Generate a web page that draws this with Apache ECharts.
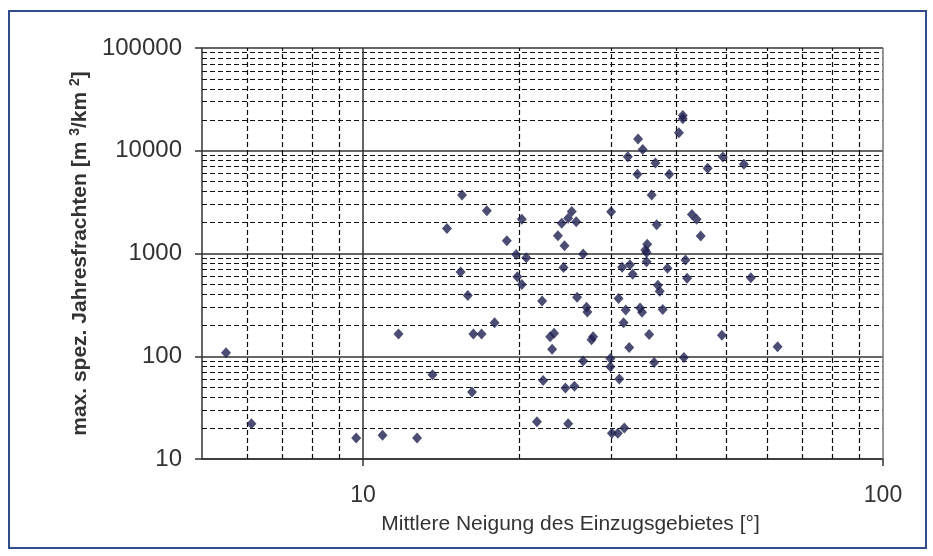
<!DOCTYPE html>
<html>
<head>
<meta charset="utf-8">
<script src="https://cdn.jsdelivr.net/npm/echarts@6/dist/echarts.min.js"></script>
<style>
html,body{margin:0;padding:0;background:#fff;}
#chart{width:933px;height:556px;}
</style>
</head>
<body>
<div id="chart"></div>
<script>
// Mean slope of catchment [deg]
const slopes = [5.45,6.1,9.7,10.9,12.7,11.7,13.6,14.5,15.4,15.5,17.3,18.9,20.2,19.7,20.6,19.8,20.2,15.9,22.1,17.9,
  23.7,24.1,24.8,25.2,25.7,24.4,26.5,24.3,25.8,26.9,27.0,16.3,16.9,16.2,22.9,23.3,23.1,27.5,27.7,26.5,
  22.2,24.5,25.5,21.6,24.8,41.2,41.2,40.5,33.8,34.5,32.3,36.5,49.2,46.0,33.7,38.8,35.9,30.0,42.9,43.8,
  44.6,36.7,35.2,34.9,35.1,35.1,31.5,32.6,33.0,38.5,41.7,42.0,36.9,37.2,31.0,32.0,34.1,34.4,37.7,31.7,
  35.5,32.5,49.0,29.9,29.9,36.3,41.4,31.1,30.1,30.9,31.8,54.0,55.7,62.7];
// Max. specific annual loads [m3/km2]
const loads = [108,22,16,17,16,165,66,1750,660,3700,2600,1330,2150,980,910,595,500,390,345,212,
  1490,1970,2200,2570,2040,1190,990,730,375,300,270,165,165,45,155,167,117,145,155,90,
  58,49,51,23,22,22000,20500,15000,13000,10300,8750,7600,8700,6750,5900,5900,3700,2550,2400,2150,
  1480,1900,1230,1080,1020,830,735,775,627,718,865,574,490,430,365,282,295,268,285,212,
  163,122,160,95,79,87,97,60,17.8,17.8,20,7400,580,124];
const xMajorLabels = [10, 100];
const yMajorLabels = [10, 100, 1000, 10000, 100000];
const xMinorGrid = [6,7,8,9,20,30,40,50,60,70,80,90];
const yMinorGrid = [20,30,40,50,60,70,80,90,200,300,400,500,600,700,800,900,
  2000,3000,4000,5000,6000,7000,8000,9000,20000,30000,40000,50000,60000,70000,80000,90000];

const points = slopes.map((s, i) => [s, loads[i]]);
const font = '"Liberation Sans", Arial, sans-serif';

const chart = echarts.init(document.getElementById('chart'), null, {renderer: 'canvas'});
const dashStyle = {color: '#111', width: 1.2, type: [5, 3]};
chart.setOption({
  animation: false,
  backgroundColor: '#ffffff',
  graphic: [{
    type: 'rect', shape: {x: 9, y: 11, width: 917, height: 537},
    style: {fill: 'none', stroke: '#2f4d8c', lineWidth: 2}, silent: true, z: 100
  }],
  grid: {left: 202, right: 50, top: 48, bottom: 97, containLabel: false},
  xAxis: {
    type: 'log', logBase: 10, min: 4.9, max: 100,
    name: 'Mittlere Neigung des Einzugsgebietes [°]',
    nameLocation: 'middle', nameGap: 55,
    nameTextStyle: {fontFamily: font, fontSize: 21, color: '#333', padding: [0, 0, 0, 56]},
    axisLine: {show: true, lineStyle: {color: '#333', width: 1.5}},
    axisTick: {show: true, customValues: xMajorLabels, length: 7, lineStyle: {color: '#333', width: 1.5}},
    axisLabel: {customValues: xMajorLabels, margin: 25, fontFamily: font, fontSize: 23, color: '#333',
      formatter: v => String(Math.round(v))},
    splitLine: {show: false},
    minorTick: {show: false}, minorSplitLine: {show: false}
  },
  yAxis: {
    type: 'log', logBase: 10, min: 10, max: 100000,
    name: 'max. spez. Jahresfrachten [m {sup|3}/km {sup|2}]',
    nameLocation: 'middle', nameGap: 108, nameRotate: 90,
    nameTextStyle: {fontFamily: font, fontSize: 21, fontWeight: 'bold', color: '#333',
      rich: {sup: {fontFamily: font, fontSize: 14, fontWeight: 'bold', color: '#333', verticalAlign: 'top', padding: [0, 0, 10, 0]}}},
    axisLine: {show: true, lineStyle: {color: '#333', width: 1.5}},
    axisTick: {show: true, customValues: yMajorLabels, length: 7, lineStyle: {color: '#333', width: 1.5}},
    axisLabel: {customValues: yMajorLabels, margin: 20, fontFamily: font, fontSize: 24, color: '#333',
      formatter: v => String(Math.round(v))},
    splitLine: {show: true, lineStyle: {color: '#333', width: 1.5}},
    minorTick: {show: false}, minorSplitLine: {show: false}
  },
  series: [
    {
      type: 'scatter', data: [], silent: true, z: 1,
      markLine: {
        silent: true, symbol: ['none', 'none'], label: {show: false}, animation: false,
        lineStyle: dashStyle,
        data: [
          ...xMinorGrid.map(v => ({xAxis: v})),
          ...yMinorGrid.map(v => ({yAxis: v})),
          {xAxis: 10, lineStyle: {color: '#333', width: 1.5, type: 'solid'}},
          {xAxis: 100, lineStyle: {color: '#777', width: 1.5, type: 'solid'}}
        ]
      }
    },
    {
      type: 'scatter', data: points, symbol: 'diamond', symbolSize: [10, 11], z: 5,
      itemStyle: {color: '#1f2150'}
    }
  ]
});
</script>
</body>
</html>
